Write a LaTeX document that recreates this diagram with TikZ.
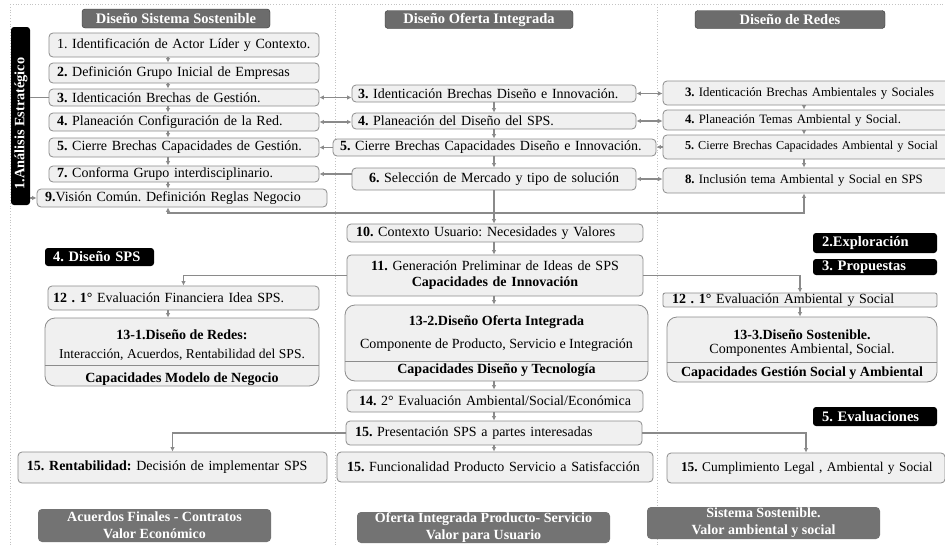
\documentclass[tikz,border=0pt]{standalone}
\usepackage{fontspec}
\setmainfont{Liberation Serif}
\usetikzlibrary{arrows.meta}
\definecolor{lc}{RGB}{138,138,138}
\definecolor{bf}{RGB}{240,240,240}
\definecolor{bd}{RGB}{140,140,140}
\definecolor{hd}{RGB}{108,108,108}
\definecolor{ft}{RGB}{115,115,115}
\definecolor{dt}{RGB}{195,195,195}
\begin{document}
\frenchspacing
\begin{tikzpicture}[x=1pt,y=-1pt,
 every node/.style={font=\fontsize{14}{16}\selectfont},
 box/.style={draw=bd, fill=bf, line width=0.8pt, rounded corners=4pt, inner ysep=0pt, align=left},
 cbox/.style={box, align=center},
 bigbox/.style={draw=bd, fill=bf, line width=0.8pt, rounded corners=10pt, inner sep=0pt},
 head/.style={draw=black!80, fill=hd, rounded corners=3pt, text=white, font=\fontsize{14.5}{16}\selectfont\bfseries, inner sep=0pt},
 lab/.style={fill=black, rounded corners=3pt, text=white, font=\fontsize{14.5}{16}\selectfont\bfseries, inner ysep=0pt, align=left},
 foot/.style={fill=ft, rounded corners=4pt, text=white, font=\fontsize{14}{17}\selectfont\bfseries, inner sep=0pt, align=center},
 rfont/.style={font=\fontsize{12.8}{15}\selectfont},
 con/.style={draw=lc, line width=1.2pt},
 arr/.style={con, -{Latex[length=4.5pt,width=4.5pt]}},
 darr/.style={con, {Latex[length=4.5pt,width=4.5pt]}-{Latex[length=4.5pt,width=4.5pt]}},
 dotline/.style={draw=dt, dotted, line width=0.8pt}
]
\path[use as bounding box] (0,0) rectangle (945,546);
\clip (0,0) rectangle (945,546);
% grid
\draw[dotline] (10,4) -- (945,4);
\draw[dotline] (10,4) -- (10,546);
\draw[dotline] (335,4) -- (335,546);
\draw[dotline] (657,4) -- (657,546);
% headers
\node[head, minimum width=188pt, minimum height=19pt] (hL) at (176,18.5) {Diseño Sistema Sostenible};
\node[head, minimum width=188pt, minimum height=18pt] (hM) at (479,19.5) {Diseño Oferta Integrada};
\node[head, minimum width=190pt, minimum height=18pt] (hR) at (790,19.5) {Diseño de Redes};
% bar
\node[fill=black, rounded corners=3pt, minimum width=19pt, minimum height=178pt, inner sep=0pt] (bar) at (20.5,116) {};
\node[rotate=90, text=white, font=\fontsize{14.3}{16}\selectfont\bfseries, inner sep=0pt] (bart) at (21,123.5) {1.Análisis Estratégico};
% left column
\node[box, inner xsep=8pt, text width=254pt, minimum height=24pt] (L1) at (184,45) {\mbox{1. Identificación de Actor Líder y Contexto.}};
\node[box, inner xsep=8pt, text width=254pt, minimum height=20pt] (L2) at (184,73) {\textbf{2.} Definición Grupo Inicial de Empresas};
\node[box, inner xsep=8pt, text width=254pt, minimum height=17pt] (L3) at (184,97.5) {\textbf{3.} Identicación Brechas de Gestión.};
\node[box, inner xsep=8pt, text width=254pt, minimum height=18pt] (L4) at (184,122) {\textbf{4.} Planeación Configuración de la Red.};
\node[box, inner xsep=8pt, text width=254pt, minimum height=19pt] (L5) at (184,147.5) {\textbf{5.} Cierre Brechas Capacidades de Gestión.};
\node[box, inner xsep=8pt, text width=254pt, minimum height=16pt] (L7) at (184,174) {\textbf{7.} Conforma Grupo interdisciplinario.};
\node[box, inner xsep=8pt, text width=274pt, minimum height=18pt] (L9) at (182,198) {\textbf{9.}Visión Común. Definición Reglas Negocio};
% middle column
\node[box, inner xsep=6pt, text width=272pt, minimum height=17pt] (M3) at (494,93.5) {\textbf{3.} Identicación Brechas Diseño e Innovación.};
\node[box, inner xsep=6pt, text width=272pt, minimum height=16pt] (M4) at (494,121) {\textbf{4.} Planeación del Diseño del SPS.};
\node[box, inner xsep=7pt, text width=309pt, minimum height=17pt] (M5) at (494.5,147.5) {\textbf{5.} Cierre Brechas Capacidades Diseño e Innovación.};
\node[cbox, inner xsep=6pt, text width=272pt, minimum height=22pt] (M6) at (494,179) {\textbf{6.} Selección de Mercado y tipo de solución};
% right column
\node[box, rfont, inner xsep=22pt, text width=260pt, minimum height=24pt] (R3) at (815,93) {\textbf{3.} Identicación Brechas Ambientales y Sociales};
\node[box, rfont, inner xsep=22pt, text width=260pt, minimum height=20pt] (R4) at (815,120) {\textbf{4.} Planeación Temas Ambiental y Social.};
\node[box, font=\fontsize{12.2}{15}\selectfont, inner xsep=22pt, text width=260pt, minimum height=24pt] (R5) at (815,147) {\textbf{5.} Cierre Brechas Capacidades Ambiental y Social};
\node[box, rfont, inner xsep=22pt, text width=260pt, minimum height=25pt] (R8) at (815,180.5) {\textbf{8.} Inclusión tema Ambiental y Social en SPS};
% middle lower
\node[box, inner xsep=9pt, text width=278pt, minimum height=18pt] (M10) at (495,233) {\textbf{10.} Contexto Usuario: Necesidades y Valores};
\node[cbox, inner xsep=9pt, text width=278pt, minimum height=41pt] (M11) at (495,275.5) {\textbf{11.} Generación Preliminar de Ideas de SPS\\ \textbf{Capacidades de Innovación}};
\node[bigbox, minimum width=303pt, minimum height=76pt] (M132) at (496.5,343) {};
\node[inner sep=0pt, font=\fontsize{14}{16}\selectfont\bfseries] (M132a) at (496.5,322) {13-2.Diseño Oferta Integrada};
\node[inner sep=0pt] (M132b) at (496.5,345) {Componente de Producto, Servicio e Integración};
\node[inner sep=0pt, font=\fontsize{14}{16}\selectfont\bfseries] (M132c) at (496.5,370.5) {Capacidades Diseño y Tecnología};
\node[cbox, inner xsep=9pt, text width=278pt, minimum height=22pt] (M14) at (495,401) {\textbf{14.} 2° Evaluación Ambiental/Social/Económica};
\node[box, inner xsep=9pt, text width=278pt, minimum height=24pt] (M15a) at (494,433) {\textbf{15.} Presentación SPS a partes interesadas};
\node[box, inner xsep=10pt, text width=296pt, minimum height=30pt] (M15b) at (495,467) {\textbf{15.} Funcionalidad Producto Servicio a Satisfacción};
\node[foot, minimum width=253pt, minimum height=31pt] (fM) at (483.5,527.5) {Oferta Integrada Producto- Servicio\\Valor para Usuario};
% left lower
\node[lab, inner xsep=8pt, text width=93pt, minimum height=18pt] (lab4) at (99.5,257) {4. Diseño SPS};
\node[box, inner xsep=5pt, text width=261pt, minimum height=24pt] (L12) at (183.5,298) {\textbf{12 . 1°} Evaluación Financiera Idea SPS.};
\node[bigbox, minimum width=274pt, minimum height=68pt] (L131) at (182,352) {};
\node[inner sep=0pt, font=\fontsize{14}{16}\selectfont\bfseries] (L131a) at (182,335) {13-1.Diseño de Redes:};
\node[inner sep=0pt, font=\fontsize{13.6}{16}\selectfont] (L131b) at (182,355) {Interacción, Acuerdos, Rentabilidad del SPS.};
\node[inner sep=0pt, font=\fontsize{14}{16}\selectfont\bfseries] (L131c) at (182,379) {Capacidades Modelo de Negocio};
\node[box, inner xsep=9pt, text width=291pt, minimum height=31pt] (L15) at (172.5,467.5) {\textbf{15. Rentabilidad:} Decisión de implementar SPS};
\node[foot, minimum width=233pt, minimum height=33pt] (fL) at (154.5,525.5) {Acuerdos Finales - Contratos\\Valor Económico};
% right lower
\node[lab, inner xsep=9pt, text width=106pt, minimum height=20pt] (lab2) at (875,243) {2.Exploración};
\node[lab, inner xsep=9pt, text width=106pt, minimum height=16pt] (lab3) at (875,267) {3. Propuestas};
\node[lab, inner xsep=9pt, text width=106pt, minimum height=19pt] (lab5) at (875,416.5) {5. Evaluaciones};
\node[box, rounded corners=2pt, inner xsep=9pt, text width=256pt, minimum height=14pt] (R12) at (800,300) {\textbf{12 . 1°} Evaluación Ambiental y Social};
\node[bigbox, minimum width=270pt, minimum height=65pt] (R133) at (802,349.5) {};
\node[inner sep=0pt, font=\fontsize{14}{16}\selectfont\bfseries] (R133a) at (802,335) {13-3.Diseño Sostenible.};
\node[inner sep=0pt] (R133b) at (802,350) {Componentes Ambiental, Social.};
\node[inner sep=0pt, font=\fontsize{14}{16}\selectfont\bfseries] (R133c) at (802,373) {Capacidades Gestión Social y Ambiental};
\node[box, font=\fontsize{13.4}{15}\selectfont, inner xsep=14pt, text width=250pt, minimum height=30pt] (R15) at (806,468) {\mbox{\textbf{15.} Cumplimiento Legal , Ambiental y Social}};
\node[foot, minimum width=233pt, minimum height=32pt] (fR) at (763.5,523) {Sistema Sostenible.\\Valor ambiental y social};
% dividers
\draw[draw=bd, line width=0.8pt] (L131.west |- 0,365) -- (L131.east |- 0,365);
\draw[draw=bd, line width=0.8pt] (M132.west |- 0,361) -- (M132.east |- 0,361);
\draw[draw=bd, line width=0.8pt] (R133.west |- 0,362) -- (R133.east |- 0,362);
% connectors
\coordinate (colL) at (168,0);
\coordinate (colM) at (494,0);
\coordinate (colR) at (804,0);
\foreach \a/\b in {L1/L2,L2/L3,L3/L4,L4/L5,L5/L7,L7/L9,L12/L131}
  \draw[arr] (\a.south -| colL) -- (\b.north -| colL);
\foreach \a/\b in {M3/M4,M4/M5,M5/M6,M10/M11,M11/M132,M132/M14,M14/M15a,M15a/M15b}
  \draw[arr] (\a.south -| colM) -- (\b.north -| colM);
\foreach \a/\b in {R3/R4,R4/R5,R5/R8}
  \draw[arr] (\a.south -| colR) -- (\b.north -| colR);
\draw[arr] (R12.south) -- (R12.south |- R133.north);
\draw[con] (bar.east |- L3.west) -- (L3.west);
\draw[arr] (bar.east |- L9.west) -- (L9.west);
\draw[darr] (L3.east) -- (L3.east -| M3.west);
\draw[darr] (L4.east) -- (L4.east -| M4.west);
\draw[arr] (M5.west) -- (M5.west -| L5.east);
\draw[arr] (M6.west |- L7.east) -- (L7.east);
\draw[darr] (M3.east) -- (M3.east -| R3.west);
\draw[darr] (M4.east) -- (M4.east -| R4.west);
\draw[arr] (R5.west) -- (R5.west -| M5.east);
\draw[darr] (M6.east) -- (M6.east -| R8.west);
\coordinate (jn) at (494,213);
\draw[arr] (M6.south -| colM) -- (M10.north -| colM);
\draw[arr] (jn) -| (L9.south -| colL);
\draw[arr] (jn) -| (R8.south -| colR);
\draw[arr] (M11.west) -| (L12.north);
\draw[arr] (M11.east) -| (R12.north);
\draw[arr] (M15a.west) -| (L15.north);
\draw[arr] (M15a.east) -| (R15.north);
\end{tikzpicture}
\end{document}
